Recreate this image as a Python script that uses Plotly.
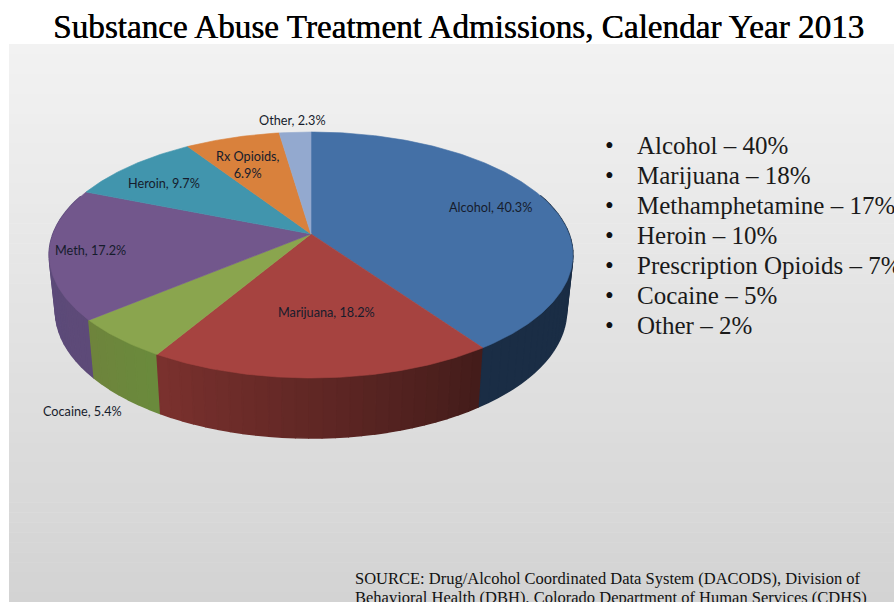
import numpy as np
import plotly.graph_objects as go

# Admissions by substance, percent of total, clockwise from twelve o'clock
categories = ["Alcohol", "Marijuana", "Cocaine", "Meth", "Heroin", "Rx Opioids", "Other"]
shares = [40.3, 18.2, 5.4, 17.2, 9.7, 6.9, 2.3]
top_colors = ["#4470a6", "#a64340", "#8aa54e", "#72578c", "#4195ad", "#d9813c", "#93a9cf"]
# Wall shading of each slice at its clockwise start and end
wall_start = ["#1a2d45", "#431c1a", "#6a8a3c", "#5d4a78", "#3a7a8c", "#a8622c", "#7384a8"]
wall_end = ["#1a2d45", "#7b312e", "#6e843c", "#5a4a7a", "#3a7a8c", "#a8622c", "#7384a8"]

title = "Substance Abuse Treatment Admissions, Calendar Year 2013"
bullets = ["Alcohol – 40%", "Marijuana – 18%", "Methamphetamine – 17%", "Heroin – 10%",
           "Prescription Opioids – 7%", "Cocaine – 5%", "Other – 2%"]
source_lines = ["SOURCE: Drug/Alcohol Coordinated Data System (DACODS), Division of",
                "Behavioral Health (DBH), Colorado Department of Human Services (CDHS)"]

# Slice label placement (page pixels)
label_text = ["Alcohol, 40.3%", "Marijuana, 18.2%", "Cocaine, 5.4%", "Meth, 17.2%",
              "Heroin, 9.7%", "Rx Opioids,<br>6.9%", "Other, 2.3%"]
label_x = [490, 326, 82, 90, 164, 248, 292]
label_y = [207, 312, 411, 250, 183, 164, 120]

# Perspective of the tilted disc
CX, CY = 311.0, 234.0
F, G, K = 258.0, 119.4, 0.1707


def top_edge(theta):
    """Project a rim angle (radians clockwise from the far point) onto the top face."""
    s = 1.0 / (1.0 + K * np.cos(theta))
    return CX + F * np.sin(theta) * s, CY - G * np.cos(theta) * s


def bottom_edge(theta):
    """Project the same rim angle onto the lower face of the disc."""
    x, y = top_edge(theta)
    return CX + (x - CX) * 0.976, y + 59 + (y - 348) * 0.035


def hex_rgb(c):
    return np.array([int(c[i:i + 2], 16) for i in (1, 3, 5)], dtype=float)


def mix(a, b, t):
    r, g, bl = hex_rgb(a) * (1 - t) + hex_rgb(b) * t
    return f"rgb({r:.0f},{g:.0f},{bl:.0f})"


edges = np.radians(np.concatenate([[0], np.cumsum(shares)]) * 3.6)

fig = go.Figure()

# Outer walls: thin quads, painted from the back of the disc towards the front
strips = []
for i in range(len(shares)):
    a0, a1 = edges[i], edges[i + 1]
    n = max(2, int(np.degrees(a1 - a0) / 2.5))
    steps = np.linspace(a0, a1, n + 1)
    for j in range(n):
        mid = (steps[j] + steps[j + 1]) / 2
        if np.radians(70) < mid < np.radians(290):
            strips.append((abs(mid - np.pi), steps[j], steps[j + 1],
                           mix(wall_start[i], wall_end[i], (j + 0.5) / n)))
strips.sort(key=lambda s: -s[0])
for _, t0, t1, color in strips:
    arc = np.linspace(t0, t1, 5)
    tx, ty = top_edge(arc)
    bx, by = bottom_edge(arc)
    fig.add_trace(go.Scatter(
        x=np.concatenate([tx, bx[::-1]]), y=np.concatenate([ty, by[::-1]]),
        mode="lines", fill="toself", fillcolor=color,
        line=dict(color=color, width=1.6), hoverinfo="skip"))

# Top face wedges
for i, name in enumerate(categories):
    arc = np.linspace(edges[i], edges[i + 1], max(4, int(shares[i] * 5)))
    ax, ay = top_edge(arc)
    fig.add_trace(go.Scatter(
        x=np.concatenate([[CX], ax, [CX]]), y=np.concatenate([[CY], ay, [CY]]),
        mode="lines", fill="toself", fillcolor=top_colors[i], name=name,
        line=dict(color=top_colors[i], width=0.6), hoverinfo="name"))

# Panel background: vertical grey gradient built from thin bands
bands = []
band_edges = np.linspace(44, 602, 57)
for k in range(56):
    color = mix("#f2f2f2", "#d3d3d3", k / 55)
    bands.append(dict(type="rect", xref="x", yref="y", layer="below",
                      x0=9, x1=894, y0=band_edges[k], y1=band_edges[k + 1] + 0.5,
                      fillcolor=color, line=dict(width=0)))

annotations = [dict(x=458, y=26, text=title, showarrow=False, xanchor="center", yanchor="middle",
                    font=dict(family="Liberation Serif", size=33.2, color="#000000",
                              shadow="0.5px 0 0 #000000"))]
for text, x, y in zip(label_text, label_x, label_y):
    annotations.append(dict(x=x, y=y, text=text, showarrow=False, xanchor="center", yanchor="middle",
                            font=dict(family="Lato", size=12.7, color="#161c2c")))
for n, text in enumerate(bullets):
    y = 145 + n * 30.1
    annotations.append(dict(x=609, y=y, text="•", showarrow=False, xanchor="center", yanchor="middle",
                            font=dict(family="Liberation Serif", size=25, color="#111111")))
    annotations.append(dict(x=634.5, y=y, text=text, showarrow=False, xanchor="left", yanchor="middle",
                            font=dict(family="Liberation Serif", size=25, color="#1a1a1a")))
for n, text in enumerate(source_lines):
    annotations.append(dict(x=353, y=578 + n * 19, text=text, showarrow=False, xanchor="left", yanchor="middle",
                            font=dict(family="Liberation Serif", size=16.5, color="#111111")))

fig.update_layout(
    width=894, height=602, autosize=False, showlegend=False,
    margin=dict(l=0, r=0, t=0, b=0), paper_bgcolor="#ffffff", plot_bgcolor="#ffffff",
    xaxis=dict(range=[0, 894], visible=False, fixedrange=True),
    yaxis=dict(range=[602, 0], visible=False, fixedrange=True),
    shapes=bands, annotations=annotations)

fig.write_html("out.html", config=dict(displayModeBar=False))
